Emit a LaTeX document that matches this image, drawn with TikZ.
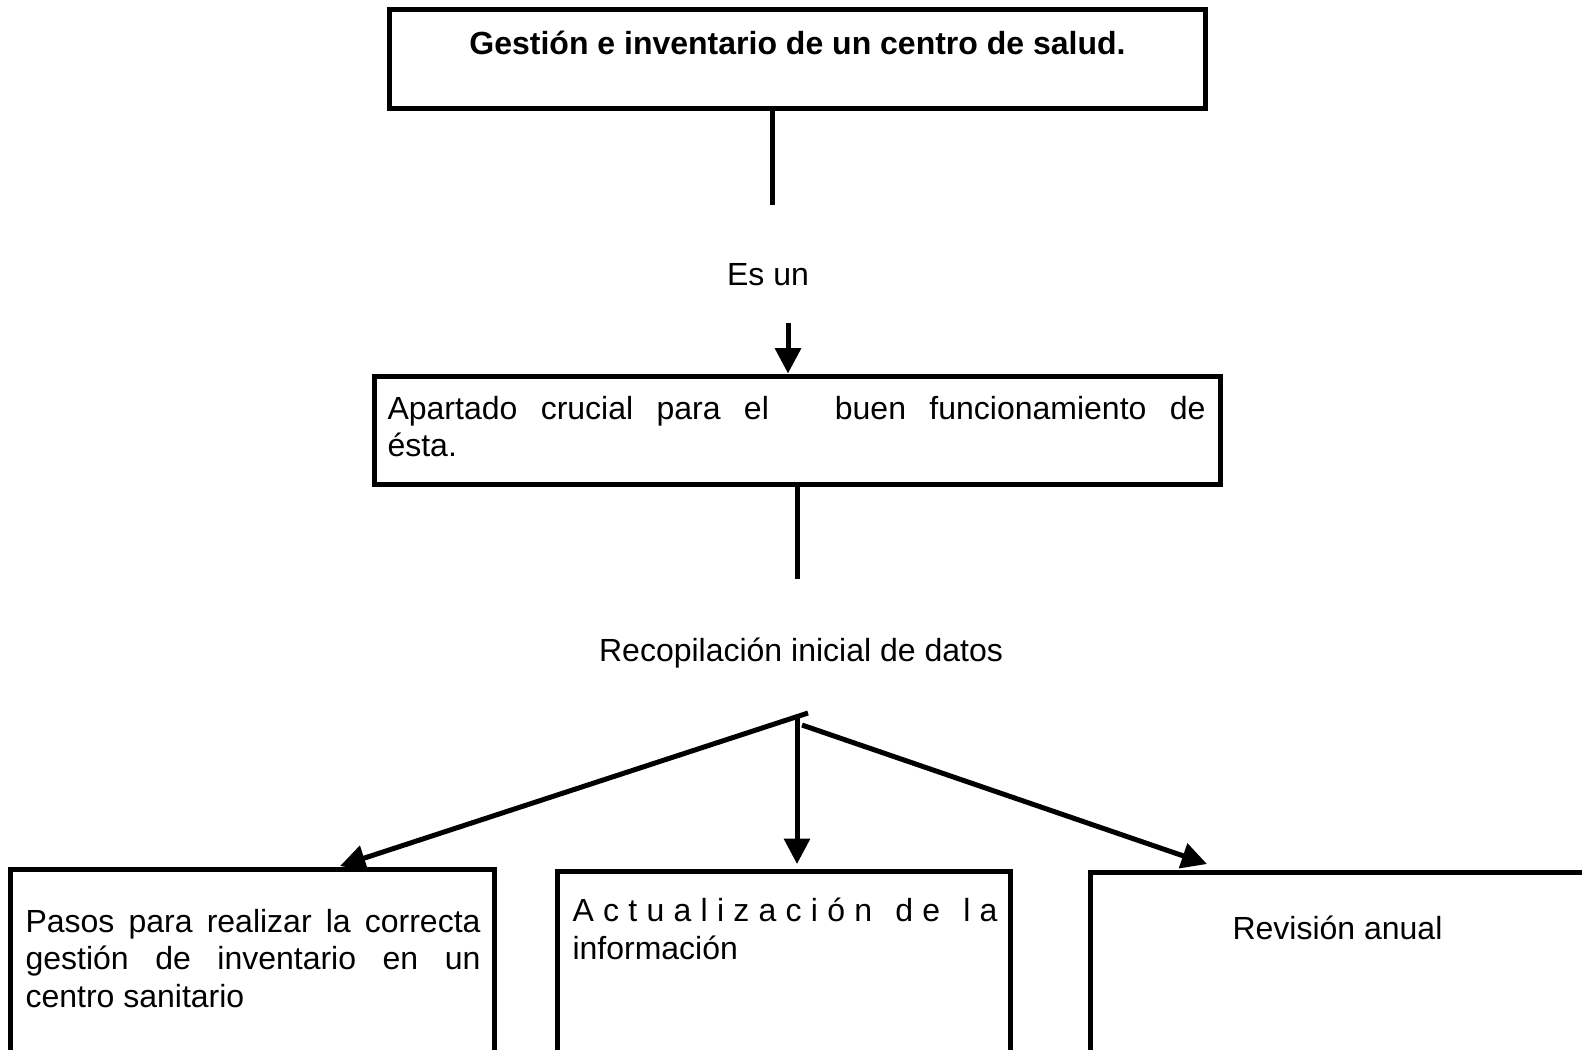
\documentclass[tikz,border=0pt]{standalone}
\usepackage{fontspec}
\setmainfont{Liberation Sans}
\usetikzlibrary{arrows.meta}
\newcommand\lsp{\hspace{0pt plus 1fil}}
\newcommand\wsp{\hspace{0pt plus 2.5fil}}
\begin{document}
\begin{tikzpicture}[x=0.375pt,y=-0.375pt,
  every node/.style={font=\fontsize{12pt}{14pt}\selectfont, inner sep=0pt},
  box/.style={draw, line width=1.875pt, rectangle, inner sep=0pt, outer sep=0.9375pt},
  conn/.style={line width=1.875pt},
  arr/.style={conn, -{Triangle[length=9.5pt,width=9.5pt]}},
  lbl/.style={anchor=base, inner sep=0pt},
  para/.style={anchor=base west, inner sep=0pt}]
\useasboundingbox (0,0) rectangle (1582,1049);
\fill[white] (0,0) rectangle (1582,1049);
\clip (0,0) rectangle (1582,1049);

% boxes
\node[box, minimum width=306pt, minimum height=37.125pt] (top) at (797.5,59) {};
\node[box, minimum width=317.06pt, minimum height=40.5pt] (box2) at (797.25,430) {};
\node[box, minimum width=181.5pt, minimum height=79.125pt] (boxL) at (252.5,974.5) {};
\node[box, minimum width=169.875pt, minimum height=78.19pt] (boxM) at (784,975.75) {};
\node[box, minimum width=191.06pt, minimum height=77.81pt] (boxR) at (1345.25,976.25) {};

% texts
\node[lbl, font={\fontsize{12pt}{14pt}\selectfont\bfseries}] (title) at (797.5,54) {Gestión e inventario de un centro de salud.};
\node[lbl] (esun) at (768,285) {Es un};
\node[lbl] (recop) at (801,661) {Recopilación inicial de datos};
\node[para] (t2) at (387,419) {\parbox[t]{306.75pt}{\setlength\baselineskip{13.9pt}\makebox[306.75pt][s]{Apartado crucial para el \hspace{16pt}buen funcionamiento de}\\ ésta.}};
\node[para] (tL) at (25,932) {\parbox[t]{170.625pt}{\setlength\baselineskip{14.06pt}\makebox[170.625pt][s]{Pasos para realizar la correcta}\\ \makebox[170.625pt][s]{gestión de inventario en un}\\ centro sanitario}};
\node[para] (tM) at (572,921) {\parbox[t]{159.375pt}{\setlength\baselineskip{14.25pt}\makebox[159.375pt][s]{A\lsp c\lsp t\lsp u\lsp a\lsp l\lsp i\lsp z\lsp a\lsp c\lsp i\lsp ó\lsp n\wsp d\lsp e\wsp l\lsp a}\\ información}};
\node[lbl] (tR) at (1337.5,939) {Revisión anual};

% connectors
\coordinate (c1) at (772.5,205);
\draw[conn] (c1 |- top.south) -- (c1);
\coordinate (a1) at (788,323);
\draw[arr] (a1) -- (a1 |- box2.north);
\coordinate (c2) at (797,579);
\draw[conn] (c2 |- box2.south) -- (c2);
\coordinate (br) at (797,715);
\draw[arr, shorten >=1.875pt] (br) -- (br |- boxM.north);
\coordinate (lt) at (808,713);
\coordinate (tipL) at (340,866);
\draw[arr] (lt) -- (tipL);
\coordinate (rt) at (802,725);
\coordinate (tipR) at (1207,864);
\draw[arr] (rt) -- (tipR);
\end{tikzpicture}
\end{document}
